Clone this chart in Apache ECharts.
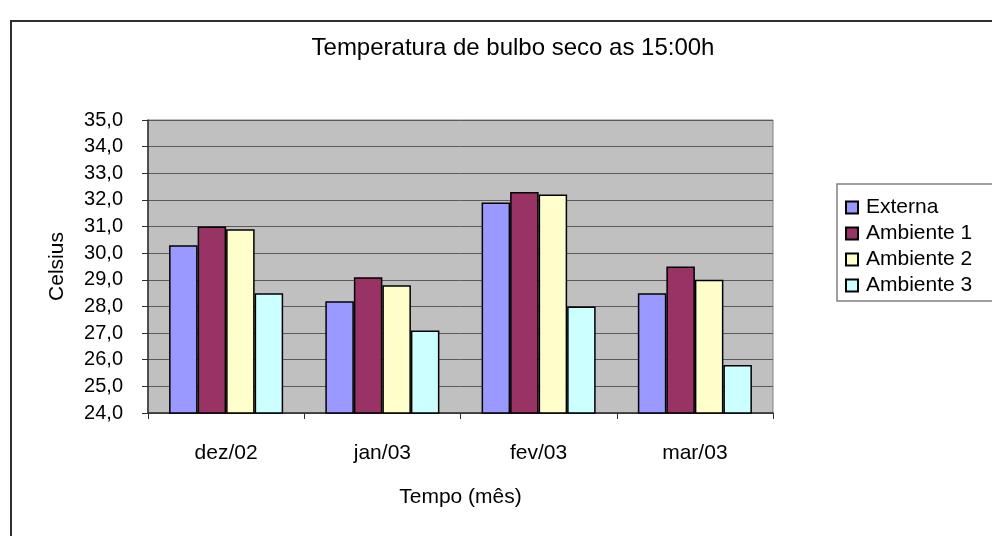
<!DOCTYPE html>
<html>
<head>
<meta charset="utf-8">
<script src="https://cdn.jsdelivr.net/npm/echarts@6/dist/echarts.min.js"></script>
<style>
html,body{margin:0;padding:0;background:#fff;}
#chart{width:992px;height:536px;}
</style>
</head>
<body>
<div id="chart"></div>
<script>
var categories = ['dez/02', 'jan/03', 'fev/03', 'mar/03'];
var seriesNames = ['Externa', 'Ambiente 1', 'Ambiente 2', 'Ambiente 3'];
var externa = [30.3, 28.2, 31.9, 28.5];
var ambiente1 = [31.0, 29.1, 32.3, 29.5];
var ambiente2 = [30.9, 28.8, 32.2, 29.0];
var ambiente3 = [28.5, 27.1, 28.0, 25.8];
var yMin = 24, yMax = 35, yStep = 1;

var FONT = '"Liberation Sans", Arial, sans-serif';
var colors = ['#9999FF', '#993366', '#FFFFCC', '#CCFFFF'];
var values = [externa, ambiente1, ambiente2, ambiente3];

var chart = echarts.init(document.getElementById('chart'), null, {renderer: 'canvas'});
var option = {
  animation: false,
  backgroundColor: '#ffffff',
  textStyle: {fontFamily: FONT, color: '#000'},
  title: {
    text: 'Temperatura de bulbo seco as 15:00h',
    left: 508, top: 31, textAlign: 'center',
    textStyle: {fontFamily: FONT, fontSize: 24, fontWeight: 'normal', color: '#000'}
  },
  graphic: [
    {type: 'rect', z: -10, silent: true,
     shape: {x: 11, y: 21, width: 1000, height: 600},
     style: {fill: null, stroke: '#303030', lineWidth: 2}},
    {type: 'rect', z: 0, silent: true,
     shape: {x: 837, y: 184, width: 200, height: 117},
     style: {fill: '#ffffff', stroke: '#808080', lineWidth: 1.5}}
  ],
  legend: {
    orient: 'vertical', left: 845, top: 197, z: 10, padding: 0,
    itemWidth: 12, itemHeight: 12, itemGap: 5,
    icon: 'rect',
    textStyle: {fontFamily: FONT, fontSize: 21, color: '#000', padding: [0, 0, 0, 3]},
    data: seriesNames
  },
  grid: {
    left: 148, right: 219, top: 120, bottom: 123,
    show: true, backgroundColor: '#C0C0C0', borderColor: '#808080', borderWidth: 1
  },
  xAxis: {
    type: 'category', data: categories,
    axisLine: {lineStyle: {color: '#303030', width: 1.5}},
    axisTick: {show: true, length: 6, lineStyle: {color: '#303030'}},
    axisLabel: {fontFamily: FONT, fontSize: 21, color: '#000', margin: 30},
    name: 'Tempo (mês)', nameLocation: 'middle', nameGap: 74,
    nameTextStyle: {fontFamily: FONT, fontSize: 21, color: '#000'}
  },
  yAxis: {
    type: 'value', min: yMin, max: yMax, interval: yStep,
    axisLine: {show: true, lineStyle: {color: '#303030', width: 1.5}},
    axisTick: {show: true, length: 6, lineStyle: {color: '#303030'}},
    axisLabel: {fontFamily: FONT, fontSize: 20, color: '#000', margin: 25,
      formatter: function (v) { return v.toFixed(1).replace('.', ','); }},
    splitLine: {show: true, lineStyle: {color: '#5a5a5a', width: 1}},
    name: 'Celsius', nameLocation: 'middle', nameGap: 80,
    nameTextStyle: {fontFamily: FONT, fontSize: 21, color: '#000'}
  },
  series: seriesNames.map(function (n, i) {
    return {
      name: n, type: 'bar', data: values[i],
      barGap: '0%', barCategoryGap: '27%',
      itemStyle: {color: colors[i], borderColor: '#000', borderWidth: 1.5}
    };
  })
};
chart.setOption(option);
</script>
</body>
</html>
